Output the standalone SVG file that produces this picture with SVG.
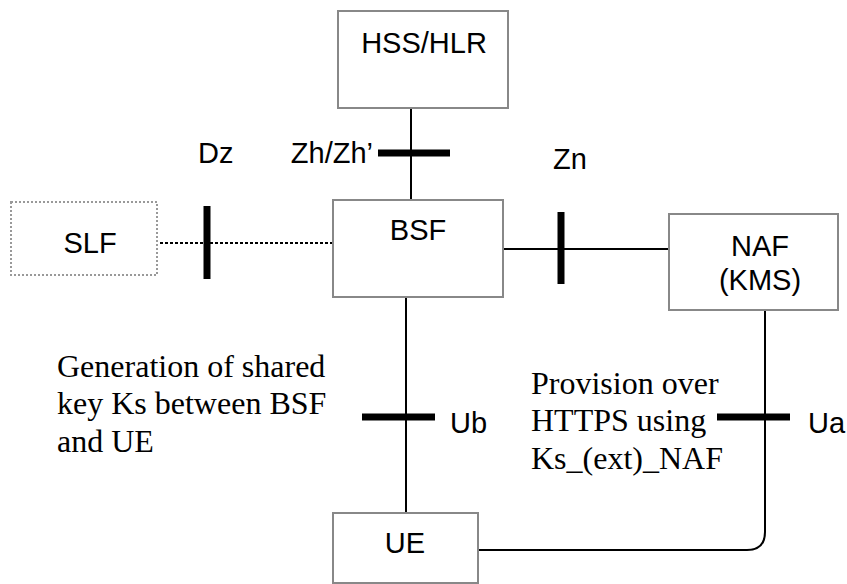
<svg xmlns="http://www.w3.org/2000/svg" width="847" height="584" viewBox="0 0 847 584">
<style>
.box{fill:#fff;stroke:#888;stroke-width:2}
.dot{fill:#fff;stroke:#999;stroke-width:2;stroke-dasharray:2 2}
.ln{stroke:#000;stroke-width:2;fill:none}
.tick{stroke:#000;stroke-width:7}
.sans{font-family:"Liberation Sans",Arial,sans-serif;font-size:29px;fill:#000}
.serif{font-family:"Liberation Serif","Times New Roman",serif;font-size:32px;fill:#000}
</style>
<rect width="847" height="584" fill="#fff"/>
<g id="connectors">
<line class="ln" x1="411" y1="108" x2="411" y2="200"/>
<line class="tick" x1="378" y1="153" x2="450" y2="153"/>
<line class="ln" x1="160" y1="243" x2="333" y2="243" stroke-dasharray="3 2" stroke-width="3"/>
<line class="tick" x1="207" y1="206" x2="207" y2="279"/>
<line class="ln" x1="503" y1="249" x2="669" y2="249"/>
<line class="tick" x1="561" y1="212" x2="561" y2="284"/>
<line class="ln" x1="406" y1="297" x2="406" y2="513"/>
<line class="tick" x1="362" y1="417" x2="435" y2="417"/>
<path class="ln" d="M765 310 V532 Q765 550 747 550 H478"/>
<line class="tick" x1="717" y1="417" x2="790" y2="417"/>
</g>
<g id="hss">
<rect class="box" x="338" y="11" width="170" height="97"/>
<text class="sans" x="424" y="53" text-anchor="middle">HSS/HLR</text>
</g>
<g id="slf">
<rect class="dot" x="11" y="202" width="146" height="73"/>
<text class="sans" x="90" y="253" text-anchor="middle">SLF</text>
</g>
<g id="bsf">
<rect class="box" x="333" y="200" width="170" height="97"/>
<text class="sans" x="418" y="240" text-anchor="middle">BSF</text>
</g>
<g id="naf">
<rect class="box" x="669" y="214" width="169" height="96"/>
<text class="sans" x="760" y="256" text-anchor="middle">NAF</text>
<text class="sans" x="760" y="290" text-anchor="middle">(KMS)</text>
</g>
<g id="ue">
<rect class="box" x="333" y="513" width="145" height="70"/>
<text class="sans" x="405" y="553" text-anchor="middle">UE</text>
</g>
<g id="labels">
<text class="sans" x="373" y="163" text-anchor="end">Zh/Zh’</text>
<text class="sans" x="198" y="163">Dz</text>
<text class="sans" x="553" y="169">Zn</text>
<text class="sans" x="450" y="433">Ub</text>
<text class="sans" x="808" y="433">Ua</text>
<text class="serif" x="57" y="377">Generation of shared</text>
<text class="serif" x="57" y="414">key Ks between BSF</text>
<text class="serif" x="57" y="452">and UE</text>
<text class="serif" x="531" y="394">Provision over</text>
<text class="serif" x="531" y="431">HTTPS using</text>
<text class="serif" x="531" y="469">Ks_(ext)_NAF</text>
</g>
</svg>
